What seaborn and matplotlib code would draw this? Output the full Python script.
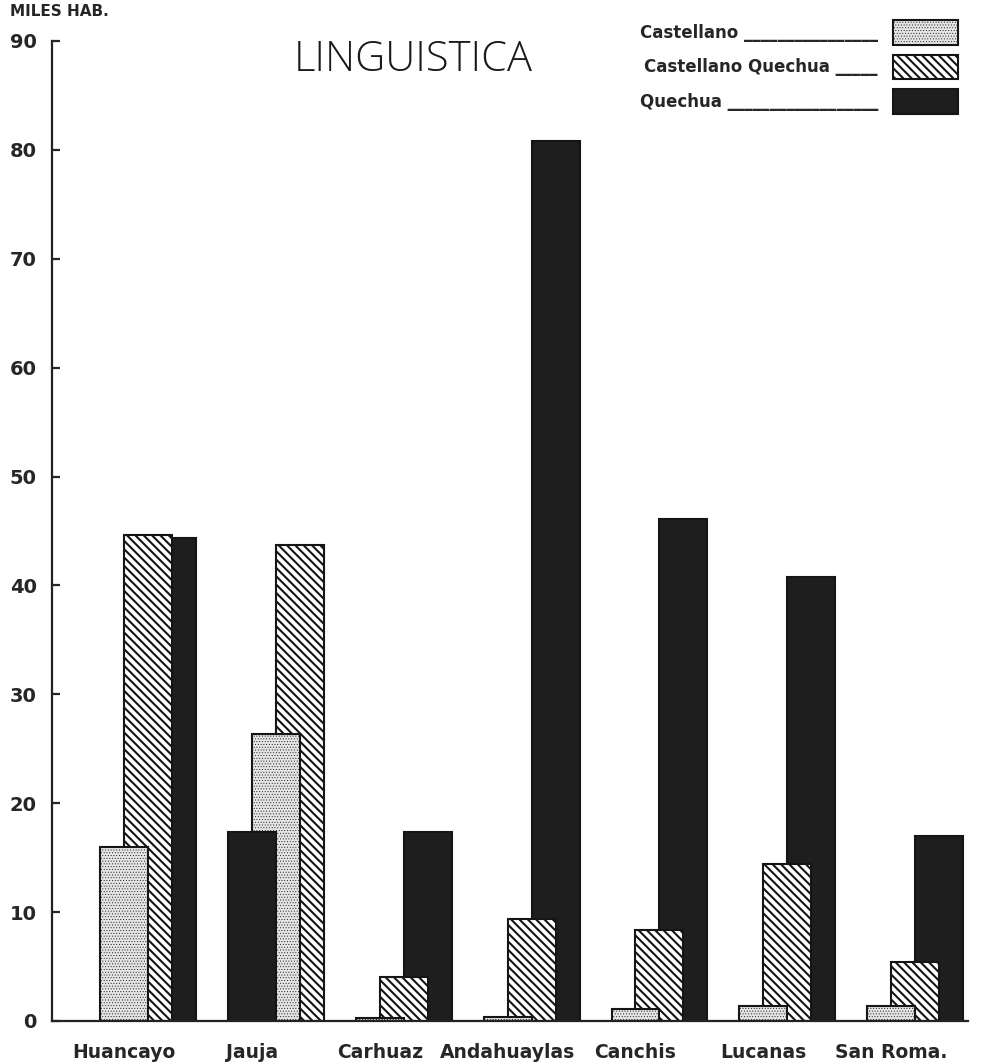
import matplotlib
matplotlib.use("Agg")
import matplotlib.pyplot as plt
import numpy as np
import pandas as pd
import seaborn as sns
from matplotlib.patches import Patch

# --- data (miles de habitantes) ---
districts = ["Huancayo", "Jauja", "Carhuaz", "Andahuaylas", "Canchis", "Lucanas", "San Roma."]
castellano = [16.0, 26.4, 0.3, 0.4, 1.1, 1.4, 1.4]
castellano_quechua = [44.6, 43.7, 4.0, 9.4, 8.4, 14.4, 5.4]
quechua = [44.4, 17.4, 17.4, 80.8, 46.1, 40.8, 17.0]
series_names = ["Castellano", "Castellano Quechua", "Quechua"]
y_ticks = [0, 10, 20, 30, 40, 50, 60, 70, 80, 90]
y_tick_labels = ["0", "10", "20", "30", "40", "50", "60", "70", "80", "90"]

# --- layout: overlapping bars, left-most bar drawn in front ---
STEP = 0.1875          # shift between overlapping bars of one group
DEFAULT_ORDER = series_names
GROUP_ORDER = {"Jauja": ["Quechua", "Castellano", "Castellano Quechua"]}

STYLES = {
    "Castellano": dict(facecolor="#e4e4e4", hatch="......", edgecolor="#151515"),
    "Castellano Quechua": dict(facecolor="white", hatch="\\\\\\\\", edgecolor="#151515"),
    "Quechua": dict(facecolor="#1e1e1e", hatch=None, edgecolor="#151515"),
}
HATCH_LW = {"Castellano": 0.35, "Castellano Quechua": 1.5, "Quechua": 1.0}

values = dict(zip(series_names, [castellano, castellano_quechua, quechua]))
rows = []
for i, d in enumerate(districts):
    order = GROUP_ORDER.get(d, DEFAULT_ORDER)
    for name in series_names:
        rows.append({"pos": i + order.index(name) * STEP,
                     "lengua": name,
                     "valor": values[name][i]})
df = pd.DataFrame(rows)

sns.set_theme(style="white")
plt.rcParams["font.family"] = ["DejaVu Sans"]
plt.rcParams["hatch.linewidth"] = 1.5


def style_patch(p, name):
    p.set_facecolor(STYLES[name]["facecolor"])
    p.set_edgecolor(STYLES[name]["edgecolor"])
    p.set_hatch(STYLES[name]["hatch"])
    p.set_linewidth(1.5)
    if hasattr(p, "set_hatch_linewidth"):
        p.set_hatch_linewidth(HATCH_LW[name])


fig = plt.figure(figsize=(9.83, 10.64), dpi=100)
ax = fig.add_axes([52 / 983, 1 - 1021 / 1064, (968 - 52) / 983, (1021 - 41) / 1064])

sns.barplot(data=df, x="pos", y="valor", hue="lengua", hue_order=series_names,
            native_scale=True, dodge=False, width=2.0, errorbar=None,
            saturation=1, legend=False, ax=ax)

for container, name in zip(ax.containers, series_names):
    for bar in container:
        style_patch(bar, name)
        cx = bar.get_x() + bar.get_width() / 2
        slot = round((cx - np.floor(cx + 1e-9)) / STEP)
        bar.set_zorder(4 - slot)

ax.set_xlim(-0.5625, 6.6)
ax.set_ylim(0, 90)
ax.set_xticks(range(len(districts)))
ax.set_xticklabels(districts, fontsize=13.5, fontweight="heavy")
ax.set_yticks(y_ticks)
ax.set_yticklabels(y_tick_labels, fontsize=14, fontweight="heavy")
ax.tick_params(axis="y", direction="in", length=6, width=1.6, pad=11, left=True)
ax.tick_params(axis="x", length=0, pad=16)
ax.set_xlabel("")
ax.set_ylabel("")
sns.despine(ax=ax)
for side in ["left", "bottom"]:
    ax.spines[side].set_linewidth(1.6)
    ax.spines[side].set_color("#222222")
    ax.spines[side].set_zorder(6)

fig.text(10 / 983, 1 - 12 / 1064, "MILES HAB.", fontsize=11, fontweight="heavy",
         ha="left", va="center")
fig.text(0.42, 1 - 60 / 1064, "LINGUISTICA", fontsize=30, fontweight="light",
         family=["Open Sans", "DejaVu Sans"], color="#1a1a1a", ha="center", va="center")

legend_labels = ["Castellano " + "_" * 16,
                 "Castellano Quechua " + "_" * 5,
                 "Quechua " + "_" * 18]
handles = []
for name, label in zip(series_names, legend_labels):
    h = Patch(label=label)
    style_patch(h, name)
    handles.append(h)
leg = fig.legend(handles=handles, loc="upper right", bbox_to_anchor=(958 / 983, 1 - 20 / 1064),
                 bbox_transform=fig.transFigure, frameon=False, markerfirst=False,
                 prop=dict(weight="bold", size=12), handlelength=3.9, handleheight=1.9,
                 labelspacing=0.6, handletextpad=0.9, borderpad=0, borderaxespad=0)
for p, name in zip(leg.get_patches(), series_names):
    style_patch(p, name)

fig.savefig("out.png", dpi=100)
